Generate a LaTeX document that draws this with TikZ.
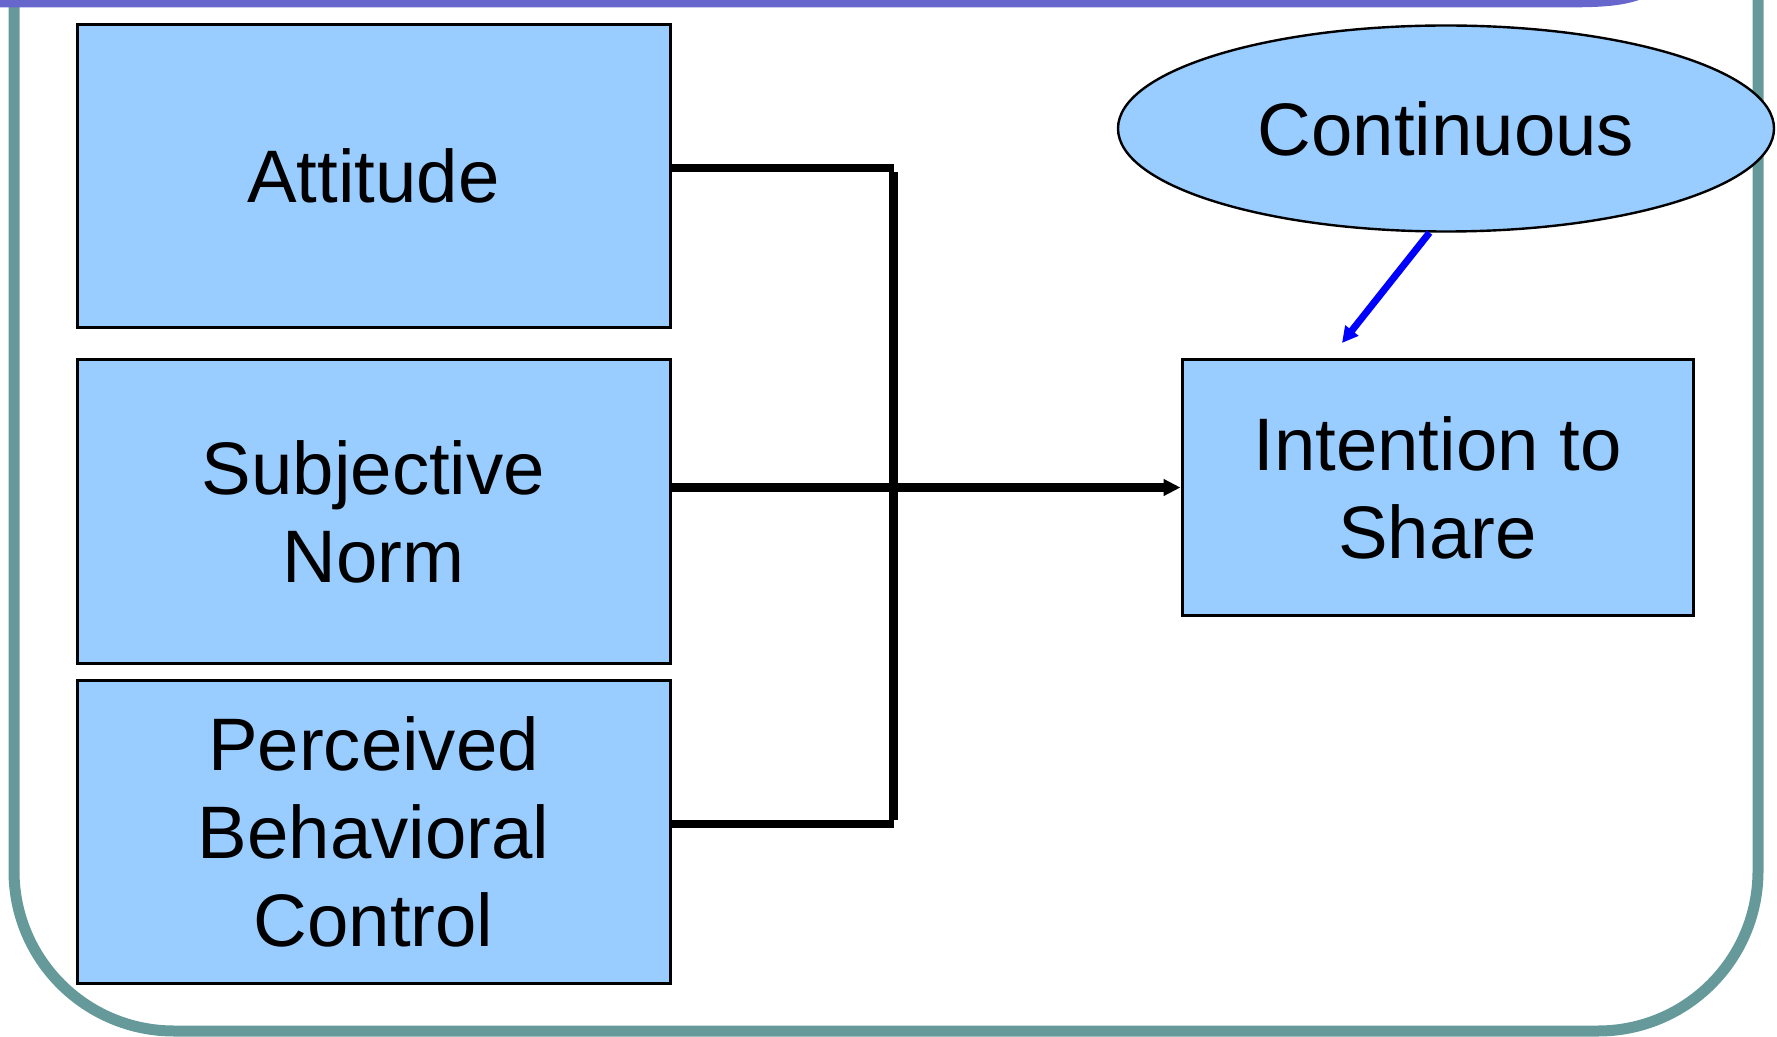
\documentclass[tikz,border=0pt]{standalone}
\usepackage{fontspec}
\setmainfont{Liberation Sans}
\usetikzlibrary{shapes.geometric,arrows.meta}

\definecolor{framegreen}{HTML}{669999}
\definecolor{barpurple}{HTML}{6666CC}
\definecolor{boxblue}{HTML}{99CCFF}

\tikzset{
  txt/.style={font=\fontsize{37.2pt}{44pt}\selectfont, align=center, text=black},
  factor/.style={txt, draw=black, line width=1.5pt, fill=boxblue,
    minimum width=296.5pt, minimum height=151.5pt, inner sep=0pt},
  outcome/.style={txt, draw=black, line width=1.5pt, fill=boxblue,
    minimum width=255.5pt, minimum height=127.5pt, inner sep=0pt},
  moderator/.style={txt, ellipse, draw=black, line width=1.2pt, fill=boxblue,
    minimum width=328pt, minimum height=103pt, inner sep=0pt},
  conn/.style={draw=black, line width=4.2pt},
  feed/.style={draw=blue, line width=3.5pt, -{Triangle[length=8pt,width=8pt]}},
}

\begin{document}
\begin{tikzpicture}[x=0.5pt,y=-0.5pt]
\useasboundingbox (0,0) rectangle (1777,1037);
\clip (0,0) rectangle (1777,1037);

% slide frame and title bar
\draw[framegreen, line width=5.5pt, rounded corners=80pt]
  (14,-300) -- (14,1031) -- (1758,1031) -- (1758,-300);
\fill[barpurple] (-20,-20) -- (-20,7.3) -- (1575,7.3)
  .. controls (1612,7.3) and (1635,4) .. (1652,-6) -- (1652,-20) -- cycle;

% predictors
\node[factor] (att) at (373.5,176) {Attitude};
\node[factor] (sub) at (373.5,511.5) {Subjective\\Norm};
\node[factor] (pbc) at (373.5,831.5) {Perceived\\Behavioral\\Control};

% outcome and moderator
\node[outcome] (int) at (1437.5,487.5) {Intention to\\Share};
\node[moderator] (cont) at (1446,128.5) {Continuous};

% combining bus
\coordinate (bt) at (893.5,168);
\coordinate (bb) at (893.5,824);
\draw[conn] (att.east |- bt) -- (bt);
\draw[conn] (pbc.east |- bb) -- (bb);
\draw[conn] ([yshift=-2.1pt]bt) -- ([yshift=2.1pt]bb);
\draw[conn, -{Triangle[length=8.5pt,width=8pt]}] (sub.east |- int.west) -- (int.west);

% moderating effect
\coordinate (tipc) at (1342,343);
\draw[feed] (cont.261) -- (tipc);
\end{tikzpicture}
\end{document}
